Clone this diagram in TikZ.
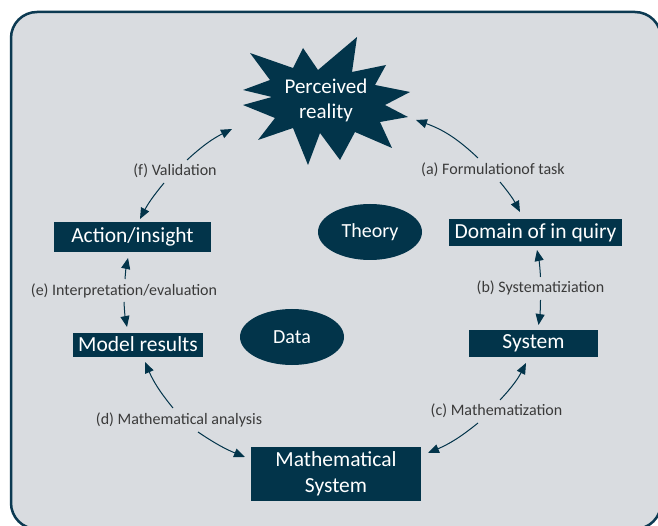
\documentclass[tikz,border=0pt]{standalone}
\usepackage{fontspec}
\setmainfont{Carlito}
\usetikzlibrary{arrows.meta,shapes.geometric}
\definecolor{navy}{HTML}{02344A}
\definecolor{bgc}{HTML}{D9DCE0}
\definecolor{framec}{HTML}{0C3A52}
\definecolor{labc}{HTML}{3A3A3A}
\tikzset{
  darkbox/.style={fill=navy,text=white,inner sep=0pt,font=\fontsize{21.5}{26}\selectfont,align=center},
  oval/.style={ellipse,fill=navy,text=white,inner sep=0pt,minimum width=104pt,minimum height=56pt,font=\fontsize{20}{24}\selectfont},
  lab/.style={text=labc,inner sep=1pt,font=\fontsize{16}{18}\selectfont},
  conn/.style={draw=navy,line width=1pt,-{Triangle[length=11pt,width=9pt]}}
}
\begin{document}
\begin{tikzpicture}[x=1pt,y=-1pt]
\useasboundingbox (0,0) rectangle (658,526);
\fill[white] (0,0) rectangle (658,526);
\draw[framec,line width=2.5pt,fill=bgc,rounded corners=26pt] (11,12) rectangle (661,529);
% star
\fill[navy] (357,37) -- (352,72) -- (386,65) -- (375,85) -- (410,92) -- (385,105) -- (408,117) -- (380,122)
 -- (392,148) -- (355,132) -- (340,160) -- (320,133) -- (308,165) -- (293,128) -- (258,140) -- (275,118)
 -- (243,105) -- (272,97) -- (243,90) -- (270,80) -- (250,53) -- (293,68) -- (303,48) -- (318,70) -- cycle;
\node[text=white,align=center,font=\fontsize{21}{25}\selectfont] (reality) at (326,100) {Perceived\\reality};
% boxes
\node[darkbox,minimum width=173pt,minimum height=27pt] (domain) at (535.5,232.5) {Domain of in quiry};
\node[darkbox,minimum width=129pt,minimum height=27pt] (system) at (533.5,343.5) {System};
\node[darkbox,minimum width=170pt,minimum height=54pt] (math) at (336,473.5) {Mathematical\\System};
\node[darkbox,minimum width=130pt,minimum height=24pt] (model) at (138,344.5) {Model results};
\node[darkbox,minimum width=157pt,minimum height=30pt] (action) at (132.5,237) {Action/insight};
% ovals
\node[oval] (theory) at (370,232) {Theory};
\node[oval] (data) at (292,337) {Data};
% labels
\node[lab] (la) at (493,170) {(a) Formulationof task};
\node[lab] (lb) at (540.5,288) {(b) Systematiziation};
\node[lab] (lc) at (496.5,411) {(c) Mathematization};
\node[lab] (ld) at (179,420) {(d) Mathematical analysis};
\node[lab] (le) at (124,291) {(e) Interpretation/evaluation};
\node[lab] (lf) at (175,171) {(f) Validation};
% arrow endpoints
\coordinate (a1) at (478,158); \coordinate (a1t) at (416,120);
\coordinate (a2) at (500,182); \coordinate (a2t) at (520,212);
\coordinate (b1) at (540.5,277); \coordinate (b1t) at (537,250);
\coordinate (b2) at (540.5,300); \coordinate (b2t) at (538.5,325);
\coordinate (c1) at (500,400); \coordinate (c1t) at (526,363);
\coordinate (c2) at (478,423); \coordinate (c2t) at (428,453);
\coordinate (d1) at (173,408); \coordinate (d1t) at (145,362);
\coordinate (d2) at (198,432); \coordinate (d2t) at (245,457);
\coordinate (e1) at (125,279); \coordinate (e1t) at (128,258);
\coordinate (e2) at (124,302); \coordinate (e2t) at (127,327);
\coordinate (f1) at (187,160); \coordinate (f1t) at (232,129);
\coordinate (f2) at (164,183); \coordinate (f2t) at (140,219);
% connectors
\draw[conn] (a1) to[bend right=12] (a1t);
\draw[conn] (a2) to[bend left=6] (a2t);
\draw[conn] (b1) to[bend right=4] (b1t);
\draw[conn] (b2) to[bend left=4] (b2t);
\draw[conn] (c1) to[bend right=8] (c1t);
\draw[conn] (c2) to[bend left=8] (c2t);
\draw[conn] (d1) to[bend left=8] (d1t);
\draw[conn] (d2) to[bend right=6] (d2t);
\draw[conn] (e1) to[bend left=4] (e1t);
\draw[conn] (e2) to[bend right=4] (e2t);
\draw[conn] (f1) to[bend left=8] (f1t);
\draw[conn] (f2) to[bend right=6] (f2t);
\end{tikzpicture}
\end{document}
